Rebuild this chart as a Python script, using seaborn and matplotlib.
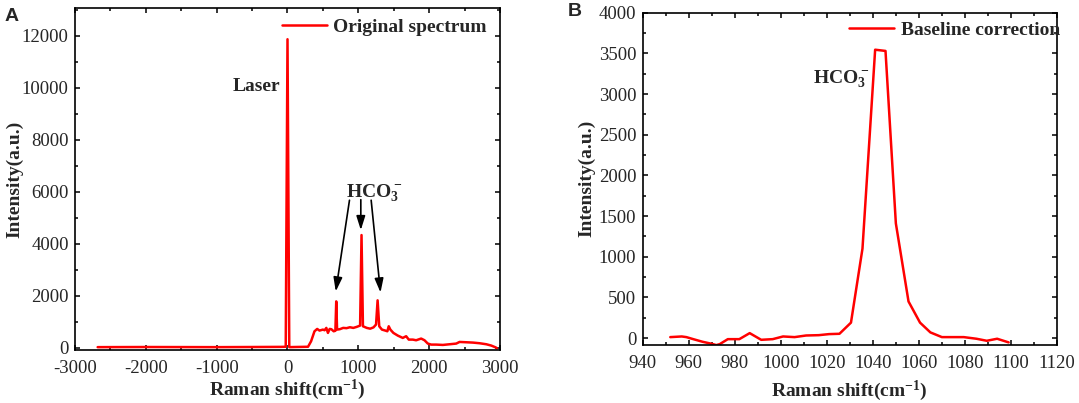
import matplotlib
matplotlib.use("Agg")
import matplotlib.pyplot as plt
from matplotlib.ticker import AutoMinorLocator, MultipleLocator
import seaborn as sns
import pandas as pd


# panel A - original spectrum
shift_a = [-2680, -2000, -1000, -500, -100, -25, 0, 25, 100, 200, 290, 333, 381, 419,
           452, 500, 524, 548, 571, 595, 619, 652, 676, 688, 700, 738, 786, 833, 881,
           929, 976, 1025, 1045, 1065, 1119, 1167, 1214, 1250, 1272, 1295, 1333, 1381,
           1410, 1429, 1452, 1495, 1557, 1627, 1675, 1712, 1769, 1816, 1887, 1934,
           1981, 2028, 2099, 2193, 2288, 2382, 2429, 2524, 2618, 2712, 2807, 2877,
           2939, 2955]
intensity_a = [30, 35, 30, 35, 40, 45, 11870, 30, 35, 40, 45, 256, 640, 730,
               667, 705, 680, 770, 577, 730, 720, 640, 660, 1790, 705, 720, 770, 760, 795,
               770, 808, 860, 4340, 833, 770, 740, 790, 900, 1830, 833, 705, 667,
               640, 833, 705, 577, 474, 385, 450, 320, 320, 295, 360, 295,
               167, 128, 128, 115, 141, 167, 230, 218, 205, 180, 141, 90,
               20, -10]

# panel B - after baseline correction
shift_b = [952, 957, 959, 962, 966, 970, 972, 973.5, 977, 982, 986.5, 991.5, 996.5,
           1001, 1006, 1011, 1016.5, 1021, 1025.5, 1030.5, 1035.5, 1041, 1045.5, 1050,
           1055.5, 1060.5, 1065, 1070, 1079.5, 1085, 1089.5, 1094, 1099]
intensity_b = [12, 20, 12, -13, -45, -70, -86, -74, -13, -13, 61, -21, -13,
               20, 12, 32, 36, 49, 53, 190, 1100, 3545, 3530, 1410,
               450, 190, 70, 12, 12, -8, -33, -8, -53]

# HCO3- arrows in panel A: (tail, head)
arrows_a = [((875, 5680), (681, 2170)),
            ((1035, 5700), (1035, 4530)),
            ((1181, 5680), (1313, 2130))]

df_a = pd.DataFrame({"shift": shift_a, "intensity": intensity_a})
df_b = pd.DataFrame({"shift": shift_b, "intensity": intensity_b})

sns.set_theme(style="ticks")
plt.rcParams["font.family"] = ["Liberation Serif", "DejaVu Serif"]
plt.rcParams["mathtext.fontset"] = "custom"
plt.rcParams["mathtext.rm"] = "Liberation Serif"
plt.rcParams["mathtext.bf"] = "Liberation Serif:bold"
plt.rcParams["mathtext.default"] = "regular"
plt.rcParams["axes.unicode_minus"] = False

fs = 14
fig = plt.figure(figsize=(10.79, 4.03), dpi=100)
ax1 = fig.add_axes([0.0695, 0.1315, 0.3939, 0.8479])
ax2 = fig.add_axes([0.5956, 0.1439, 0.3840, 0.8246])

sns.lineplot(data=df_a, x="shift", y="intensity", ax=ax1, color="#ff0000",
             linewidth=1.8, label="Original spectrum")
sns.lineplot(data=df_b, x="shift", y="intensity", ax=ax2, color="#ff0000",
             linewidth=1.8, label="Baseline correction")

ax1.set_xlim(-3000, 3000)
ax1.set_ylim(-80, 13060)
ax1.xaxis.set_major_locator(MultipleLocator(1000))
ax1.yaxis.set_major_locator(MultipleLocator(2000))
ax2.set_xlim(940, 1120)
ax2.set_ylim(-85, 4000)
ax2.xaxis.set_major_locator(MultipleLocator(20))
ax2.yaxis.set_major_locator(MultipleLocator(500))

for ax in (ax1, ax2):
    ax.xaxis.set_minor_locator(AutoMinorLocator(2))
    ax.yaxis.set_minor_locator(AutoMinorLocator(2))
    ax.tick_params(which="both", direction="in", top=True, right=True,
                   width=1.1, color="black")
    ax.tick_params(which="major", length=3.8, labelsize=13.5)
    ax.tick_params(which="minor", length=2.2)
    ax.tick_params(axis="x", pad=7)
    ax.tick_params(axis="y", pad=4.5)
    for sp in ax.spines.values():
        sp.set_linewidth(1.2)
        sp.set_color("black")
    ax.set_xlabel("Raman shift(cm$^{-1}$)", fontsize=fs, fontweight="bold")
    ax.set_ylabel("Intensity(a.u.)", fontsize=fs, fontweight="bold")

ax1.xaxis.set_label_coords(0.5, -0.082)
ax1.yaxis.set_label_coords(-0.122, 0.5)
ax2.xaxis.set_label_coords(0.5, -0.100)
ax2.yaxis.set_label_coords(-0.114, 0.5)

leg_font = {"family": "Liberation Serif", "weight": "bold", "size": fs}
ax1.legend(loc="center left", bbox_to_anchor=(0.4878, 0.944), frameon=False,
           prop=leg_font, borderpad=0, borderaxespad=0, handlelength=2.3,
           handletextpad=0.3)
ax2.legend(loc="center left", bbox_to_anchor=(0.498, 0.9476), frameon=False,
           prop=leg_font, borderpad=0, borderaxespad=0, handlelength=2.3,
           handletextpad=0.4)

ax1.text(-97, 10047, "Laser", ha="right", va="center", fontsize=fs,
         fontweight="bold")
ax1.text(826, 5962, "HCO$_3^-$", ha="left", va="center", fontsize=fs,
         fontweight="bold")
for tail, head in arrows_a:
    ax1.annotate("", xy=head, xytext=tail,
                 arrowprops=dict(arrowstyle="-|>,head_length=0.7,head_width=0.22",
                                 color="black", lw=1.2, shrinkA=0, shrinkB=0))
ax2.text(1013.8, 3185, "HCO$_3^-$", ha="left", va="center", fontsize=fs,
         fontweight="bold")

fig.text(4.5 / 1079, 1 - 7.6 / 403, "A", ha="left", va="top", fontsize=14,
         fontweight="bold", family="Liberation Sans")
fig.text(568 / 1079, 1 - 3.3 / 403, "B", ha="left", va="top", fontsize=14,
         fontweight="bold", family="Liberation Sans")

plt.savefig("out.png", dpi=100)
